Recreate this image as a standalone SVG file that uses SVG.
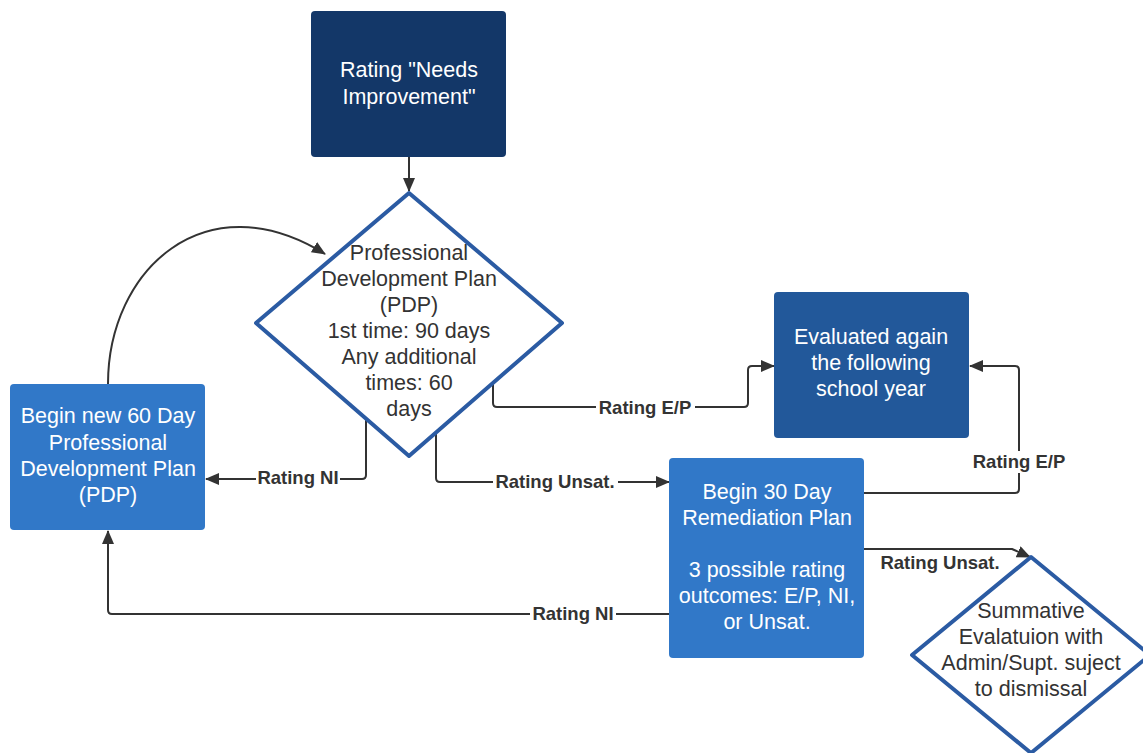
<svg xmlns="http://www.w3.org/2000/svg" width="1143" height="753" viewBox="0 0 1143 753">
<style>
.n{font-family:"Liberation Sans",Arial,sans-serif;font-size:21.5px;text-anchor:middle}
.w{fill:#ffffff}
.d{fill:#333333}
.c{fill:none;stroke:#333333;stroke-width:2;stroke-linejoin:round}
.l{font-family:"Liberation Sans",Arial,sans-serif;font-size:18.5px;font-weight:bold;fill:#333333;text-anchor:middle}
.bg{fill:#ffffff}
.dia{fill:#ffffff;stroke:#2b5ba3;stroke-width:4;stroke-linejoin:round}
</style>
<defs>
<marker id="ah" viewBox="0 0 14 12" refX="13" refY="6" markerWidth="14" markerHeight="12" markerUnits="userSpaceOnUse" orient="auto">
<path d="M0,0 L14,6 L0,12 Z" fill="#333333"/>
</marker>
</defs>
<rect width="1143" height="753" fill="#ffffff"/>
<g id="connectors">
<path class="c" d="M409,157 L409,191" marker-end="url(#ah)"/>
<path class="c" d="M108,384 C108,270 205,180 325,254" marker-end="url(#ah)"/>
<path class="c" d="M366,420 L366,475 Q366,479 362,479 L206,479" marker-end="url(#ah)"/>
<path class="c" d="M436,432 L436,478 Q436,482 440,482 L669,482" marker-end="url(#ah)"/>
<path class="c" d="M493,383 L493,403 Q493,407 497,407 L744,407 Q748,407 748,403 L748,370 Q748,366 752,366 L774,366" marker-end="url(#ah)"/>
<path class="c" d="M864,493 L1015,493 Q1019,493 1019,489 L1019,370 Q1019,366 1015,366 L970,366" marker-end="url(#ah)"/>
<path class="c" d="M864,549 L1012,549 L1030,557" marker-end="url(#ah)"/>
<path class="c" d="M669,614 L112,614 Q108,614 108,610 L108,531" marker-end="url(#ah)"/>
<rect class="bg" x="256" y="467" width="84" height="22"/>
<text class="l" x="298" y="484">Rating NI</text>
<rect class="bg" x="493" y="471" width="125" height="22"/>
<text class="l" x="555" y="488">Rating Unsat.</text>
<rect class="bg" x="596" y="397" width="99" height="22"/>
<text class="l" x="645" y="414">Rating E/P</text>
<rect class="bg" x="970" y="451" width="98" height="22"/>
<text class="l" x="1019" y="468">Rating E/P</text>
<text class="l" x="940" y="569">Rating Unsat.</text>
<rect class="bg" x="530" y="603" width="86" height="22"/>
<text class="l" x="573" y="620">Rating NI</text>
</g>
<g id="node-needs-improvement">
<rect x="311" y="11" width="195" height="146" rx="4" fill="#133768"/>
<text class="n w" x="409" y="77">Rating "Needs</text>
<text class="n w" x="409" y="104">Improvement"</text>
</g>
<g id="node-pdp">
<path class="dia" d="M409,193 L562,323 L409,456 L256,323 Z"/>
<text class="n d" x="409" y="260">Professional</text>
<text class="n d" x="409" y="286">Development Plan</text>
<text class="n d" x="409" y="312">(PDP)</text>
<text class="n d" x="409" y="338">1st time: 90 days</text>
<text class="n d" x="409" y="364">Any additional</text>
<text class="n d" x="409" y="390">times: 60</text>
<text class="n d" x="409" y="416">days</text>
</g>
<g id="node-new-pdp">
<rect x="10" y="384" width="195" height="146" rx="4" fill="#3178c8"/>
<text class="n w" x="108" y="423">Begin new 60 Day</text>
<text class="n w" x="108" y="450">Professional</text>
<text class="n w" x="108" y="476">Development Plan</text>
<text class="n w" x="108" y="502">(PDP)</text>
</g>
<g id="node-evaluated">
<rect x="774" y="292" width="195" height="146" rx="4" fill="#22589a"/>
<text class="n w" x="871" y="344">Evaluated again</text>
<text class="n w" x="871" y="370">the following</text>
<text class="n w" x="871" y="396">school year</text>
</g>
<g id="node-remediation">
<rect x="669" y="458" width="195" height="200" rx="4" fill="#3178c8"/>
<text class="n w" x="767" y="499">Begin 30 Day</text>
<text class="n w" x="767" y="525">Remediation Plan</text>
<text class="n w" x="767" y="577">3 possible rating</text>
<text class="n w" x="767" y="603">outcomes: E/P, NI,</text>
<text class="n w" x="767" y="629">or Unsat.</text>
</g>
<g id="node-summative">
<path class="dia" d="M1031,557 L1150,655 L1031,753 L912,655 Z"/>
<text class="n d" x="1031" y="618">Summative</text>
<text class="n d" x="1031" y="644">Evalatuion with</text>
<text class="n d" x="1031" y="670">Admin/Supt. suject</text>
<text class="n d" x="1031" y="696">to dismissal</text>
</g>
</svg>
